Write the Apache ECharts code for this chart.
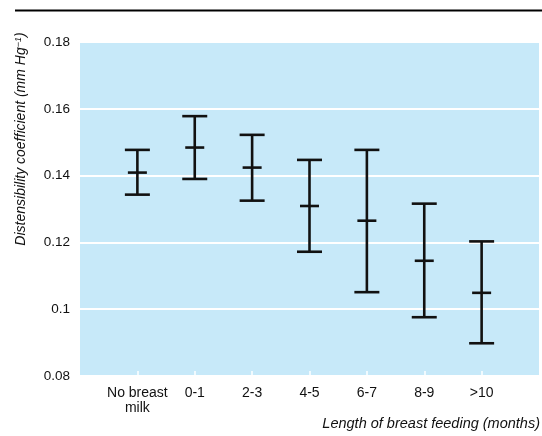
<!DOCTYPE html>
<html>
<head>
<meta charset="utf-8">
<script src="https://cdn.jsdelivr.net/npm/echarts@6/dist/echarts.min.js"></script>
<style>html,body{margin:0;padding:0;background:#fff}#c{width:542px;height:436px}</style>
</head>
<body>
<div id="c"></div>
<script>
const categories = ['', 'No breast\nmilk', '0-1', '2-3', '4-5', '6-7', '8-9', '>10', ''];
const groups = ['No breast\nmilk', '0-1', '2-3', '4-5', '6-7', '8-9', '>10'];
const lowerValues = [0.1343, 0.1390, 0.1325, 0.1172, 0.1051, 0.0976, 0.0898];
const meanValues  = [0.1409, 0.1484, 0.1424, 0.1309, 0.1265, 0.1145, 0.1049];
const upperValues = [0.1477, 0.1578, 0.1522, 0.1447, 0.1477, 0.1316, 0.1203];
const yTicks = [0.08, 0.10, 0.12, 0.14, 0.16, 0.18];

const FONT = "'Liberation Sans Narrow','Arial Narrow','Liberation Sans',Arial,sans-serif";
const chart = echarts.init(document.getElementById('c'), null, {renderer: 'canvas'});

const seriesData = groups.map((g, i) => [g, lowerValues[i], meanValues[i], upperValues[i]]);

chart.setOption({
  animation: false,
  grid: {left: 80, right: 0, top: 42, bottom: 60, show: true, backgroundColor: '#c7e9f9', borderWidth: 0},
  xAxis: {
    type: 'category', data: categories, boundaryGap: false,
    axisLine: {show: false},
    axisTick: {show: true, inside: true, length: 5, lineStyle: {color: '#ffffff', width: 1.5},
      interval: (i) => i > 0 && i < categories.length - 1, alignWithLabel: true},
    axisLabel: {interval: 0, color: '#111', fontFamily: FONT, fontSize: 14, lineHeight: 15, margin: 10},
    splitLine: {show: false}
  },
  yAxis: {
    type: 'value', min: yTicks[0], max: yTicks[yTicks.length - 1], interval: 0.02,
    axisLine: {show: false}, axisTick: {show: false},
    axisLabel: {color: '#111', fontFamily: FONT, fontSize: 13.5, margin: 10,
      formatter: (v) => String(+v.toFixed(2))},
    splitLine: {show: true, lineStyle: {color: '#ffffff', width: 2}}
  },
  graphic: [
    {type: 'line', shape: {x1: 15, y1: 10.5, x2: 542, y2: 10.5}, style: {stroke: '#000', lineWidth: 2}},
    {type: 'text', x: 21, y: 139, rotation: Math.PI / 2,
      style: {text: 'Distensibility coefficient (mm Hg{sup|−1})', fill: '#111',
        font: 'italic 14px ' + FONT, align: 'center', verticalAlign: 'middle',
        rich: {sup: {fontSize: 9, fontStyle: 'italic', fontFamily: FONT, verticalAlign: 'top', padding: [0, 0, 6, 0], fill: '#111'}}}},
    {type: 'text', x: 540, y: 424,
      style: {text: 'Length of breast feeding (months)', fill: '#111',
        font: 'italic 14.5px ' + FONT, align: 'right', verticalAlign: 'middle'}}
  ],
  series: [{
    type: 'custom',
    data: seriesData,
    encode: {x: 0, y: [1, 2, 3]},
    renderItem: function (params, api) {
      const lo = api.coord([api.value(0), api.value(1)]);
      const mid = api.coord([api.value(0), api.value(2)]);
      const hi = api.coord([api.value(0), api.value(3)]);
      const x = lo[0];
      const capW = 12.5, midW = 9.5;
      const st = {stroke: '#111', lineWidth: 2.6};
      return {type: 'group', children: [
        {type: 'line', shape: {x1: x, y1: lo[1], x2: x, y2: hi[1]}, style: st},
        {type: 'line', shape: {x1: x - capW, y1: lo[1], x2: x + capW, y2: lo[1]}, style: st},
        {type: 'line', shape: {x1: x - capW, y1: hi[1], x2: x + capW, y2: hi[1]}, style: st},
        {type: 'line', shape: {x1: x - midW, y1: mid[1], x2: x + midW, y2: mid[1]}, style: st}
      ]};
    }
  }]
});
</script>
</body>
</html>
